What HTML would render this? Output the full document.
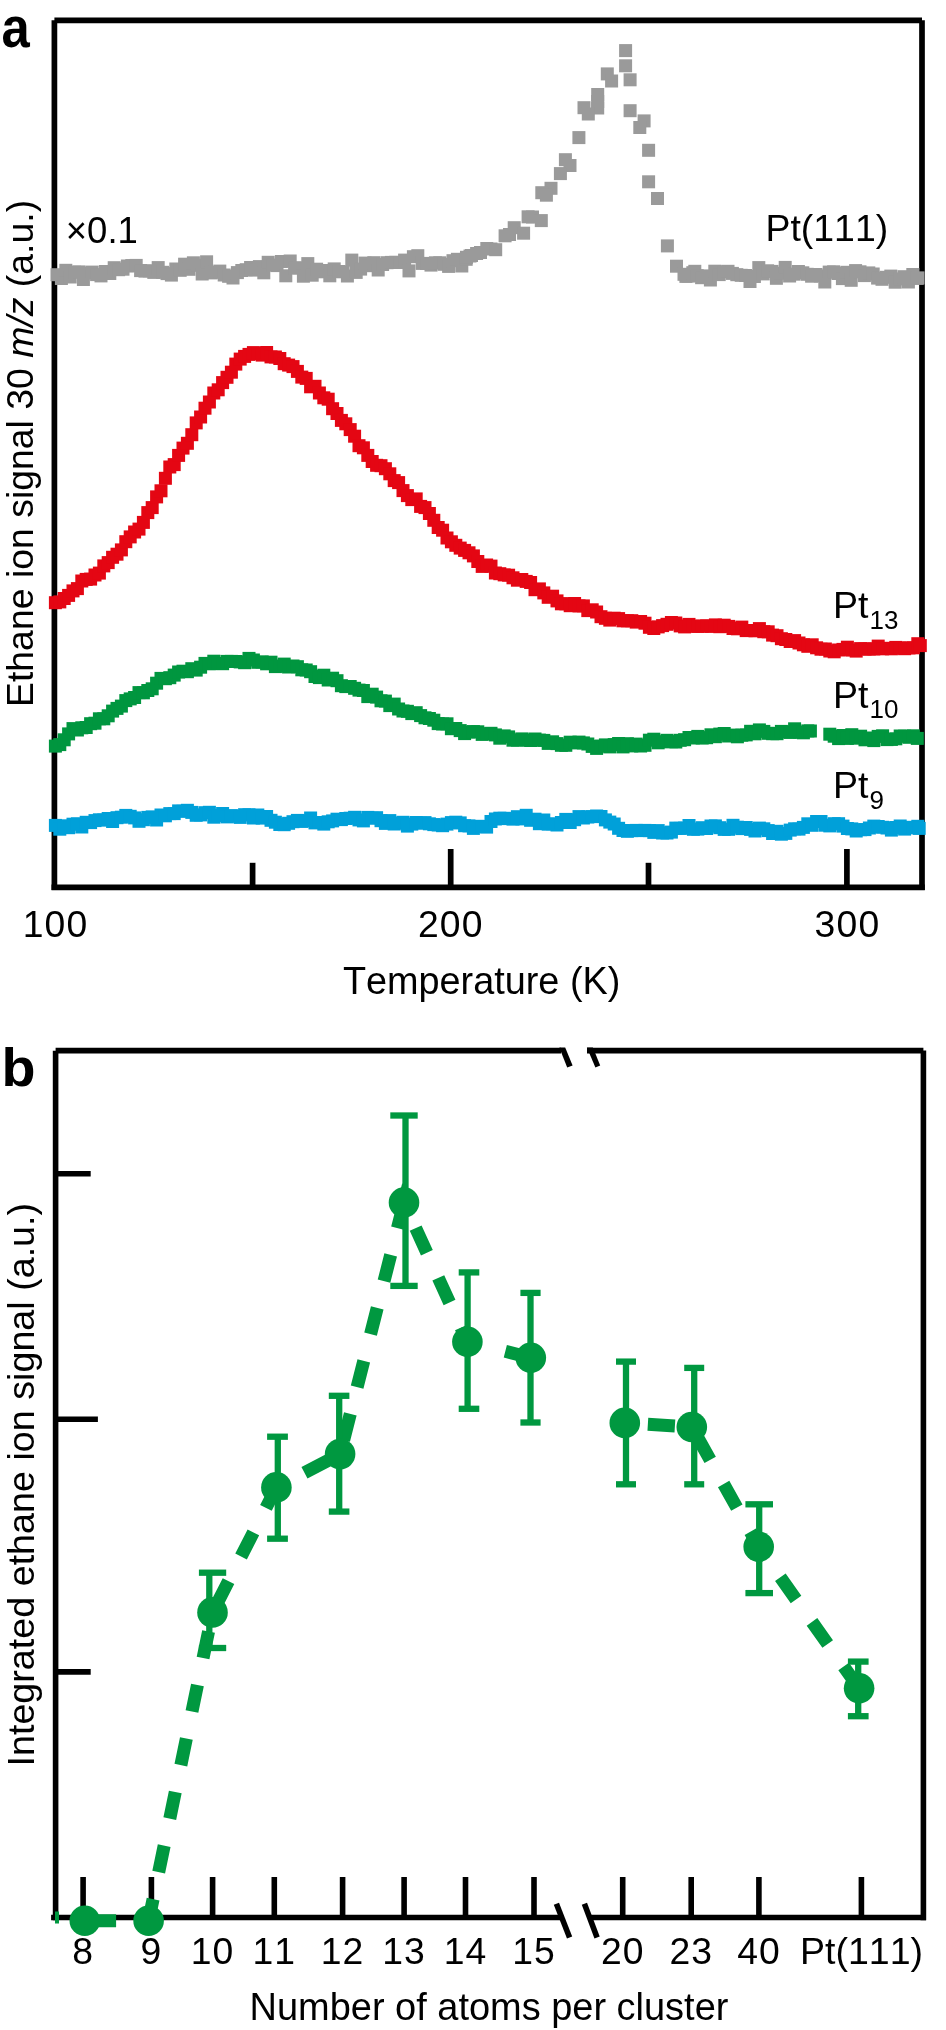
<!DOCTYPE html>
<html><head><meta charset="utf-8"><style>
html,body{margin:0;padding:0;background:#fff;}
svg{display:block;will-change:transform;}
text{font-family:"Liberation Sans",sans-serif;fill:#000;font-kerning:none;}
</style></head><body>
<svg width="946" height="2030" viewBox="0 0 946 2030">
<rect width="946" height="2030" fill="#fff"/>
<!-- panel a -->
<text x="0" y="0" transform="translate(1.50,47.00) scale(0.875,1)" font-size="58.00" font-weight="bold" >a</text>
<g stroke="#000" stroke-width="5.7" fill="none" stroke-linecap="butt">
<line x1="54.4" y1="20.3" x2="54.4" y2="890"/>
<line x1="54.4" y1="20.3" x2="922" y2="20.3"/>
<line x1="922" y1="20.3" x2="922" y2="890"/>
<line x1="51.5" y1="887.3" x2="924.8" y2="887.3"/>
<line x1="252.6" y1="862.8" x2="252.6" y2="887"/>
<line x1="450.7" y1="849" x2="450.7" y2="887"/>
<line x1="648.5" y1="862.8" x2="648.5" y2="887"/>
<line x1="846.9" y1="849" x2="846.9" y2="887"/>
</g>
<g fill="#9a9a9a"><rect x="50.5" y="268.2" width="13.0" height="13.0"/><rect x="54.9" y="272.0" width="13.0" height="13.0"/><rect x="59.3" y="263.8" width="13.0" height="13.0"/><rect x="63.7" y="270.5" width="13.0" height="13.0"/><rect x="68.1" y="265.7" width="13.0" height="13.0"/><rect x="72.5" y="265.4" width="13.0" height="13.0"/><rect x="76.9" y="273.0" width="13.0" height="13.0"/><rect x="81.3" y="266.5" width="13.0" height="13.0"/><rect x="85.7" y="265.6" width="13.0" height="13.0"/><rect x="90.1" y="268.1" width="13.0" height="13.0"/><rect x="94.5" y="269.4" width="13.0" height="13.0"/><rect x="98.9" y="265.0" width="13.0" height="13.0"/><rect x="103.3" y="267.0" width="13.0" height="13.0"/><rect x="107.7" y="261.2" width="13.0" height="13.0"/><rect x="112.1" y="263.2" width="13.0" height="13.0"/><rect x="116.5" y="262.7" width="13.0" height="13.0"/><rect x="120.9" y="259.5" width="13.0" height="13.0"/><rect x="125.3" y="259.1" width="13.0" height="13.0"/><rect x="129.7" y="258.9" width="13.0" height="13.0"/><rect x="134.1" y="264.1" width="13.0" height="13.0"/><rect x="138.5" y="264.6" width="13.0" height="13.0"/><rect x="142.9" y="264.3" width="13.0" height="13.0"/><rect x="147.3" y="265.9" width="13.0" height="13.0"/><rect x="151.7" y="261.1" width="13.0" height="13.0"/><rect x="156.1" y="265.8" width="13.0" height="13.0"/><rect x="160.5" y="267.1" width="13.0" height="13.0"/><rect x="164.9" y="268.6" width="13.0" height="13.0"/><rect x="169.3" y="262.5" width="13.0" height="13.0"/><rect x="173.7" y="263.8" width="13.0" height="13.0"/><rect x="178.1" y="257.7" width="13.0" height="13.0"/><rect x="182.5" y="262.8" width="13.0" height="13.0"/><rect x="186.9" y="256.3" width="13.0" height="13.0"/><rect x="191.3" y="258.8" width="13.0" height="13.0"/><rect x="195.7" y="267.5" width="13.0" height="13.0"/><rect x="200.1" y="255.3" width="13.0" height="13.0"/><rect x="204.5" y="266.4" width="13.0" height="13.0"/><rect x="208.9" y="265.8" width="13.0" height="13.0"/><rect x="213.3" y="264.6" width="13.0" height="13.0"/><rect x="217.7" y="268.5" width="13.0" height="13.0"/><rect x="222.1" y="269.8" width="13.0" height="13.0"/><rect x="226.5" y="271.5" width="13.0" height="13.0"/><rect x="230.9" y="266.1" width="13.0" height="13.0"/><rect x="235.3" y="264.0" width="13.0" height="13.0"/><rect x="239.7" y="263.2" width="13.0" height="13.0"/><rect x="244.1" y="261.0" width="13.0" height="13.0"/><rect x="248.5" y="263.6" width="13.0" height="13.0"/><rect x="252.9" y="260.1" width="13.0" height="13.0"/><rect x="257.3" y="266.3" width="13.0" height="13.0"/><rect x="261.7" y="255.8" width="13.0" height="13.0"/><rect x="266.1" y="258.6" width="13.0" height="13.0"/><rect x="270.5" y="259.1" width="13.0" height="13.0"/><rect x="274.9" y="255.0" width="13.0" height="13.0"/><rect x="279.3" y="269.3" width="13.0" height="13.0"/><rect x="283.7" y="254.5" width="13.0" height="13.0"/><rect x="288.1" y="261.6" width="13.0" height="13.0"/><rect x="292.5" y="261.3" width="13.0" height="13.0"/><rect x="296.9" y="269.7" width="13.0" height="13.0"/><rect x="301.3" y="257.1" width="13.0" height="13.0"/><rect x="305.7" y="268.7" width="13.0" height="13.0"/><rect x="310.1" y="262.7" width="13.0" height="13.0"/><rect x="314.5" y="265.3" width="13.0" height="13.0"/><rect x="318.9" y="264.0" width="13.0" height="13.0"/><rect x="323.3" y="269.3" width="13.0" height="13.0"/><rect x="327.7" y="262.4" width="13.0" height="13.0"/><rect x="332.1" y="265.0" width="13.0" height="13.0"/><rect x="336.5" y="265.3" width="13.0" height="13.0"/><rect x="340.9" y="269.5" width="13.0" height="13.0"/><rect x="345.3" y="253.6" width="13.0" height="13.0"/><rect x="349.7" y="265.9" width="13.0" height="13.0"/><rect x="354.1" y="262.6" width="13.0" height="13.0"/><rect x="358.5" y="256.6" width="13.0" height="13.0"/><rect x="362.9" y="259.2" width="13.0" height="13.0"/><rect x="367.3" y="256.2" width="13.0" height="13.0"/><rect x="371.7" y="263.5" width="13.0" height="13.0"/><rect x="376.1" y="258.0" width="13.0" height="13.0"/><rect x="380.5" y="256.2" width="13.0" height="13.0"/><rect x="384.9" y="255.9" width="13.0" height="13.0"/><rect x="389.3" y="255.8" width="13.0" height="13.0"/><rect x="393.7" y="256.0" width="13.0" height="13.0"/><rect x="398.1" y="253.6" width="13.0" height="13.0"/><rect x="402.5" y="264.4" width="13.0" height="13.0"/><rect x="406.9" y="250.2" width="13.0" height="13.0"/><rect x="411.3" y="249.2" width="13.0" height="13.0"/><rect x="415.7" y="256.9" width="13.0" height="13.0"/><rect x="420.1" y="257.0" width="13.0" height="13.0"/><rect x="424.5" y="258.6" width="13.0" height="13.0"/><rect x="428.9" y="256.3" width="13.0" height="13.0"/><rect x="433.3" y="256.3" width="13.0" height="13.0"/><rect x="437.7" y="257.8" width="13.0" height="13.0"/><rect x="442.1" y="259.9" width="13.0" height="13.0"/><rect x="446.5" y="254.2" width="13.0" height="13.0"/><rect x="450.9" y="252.8" width="13.0" height="13.0"/><rect x="455.3" y="259.5" width="13.0" height="13.0"/><rect x="459.7" y="252.8" width="13.0" height="13.0"/><rect x="463.5" y="249.5" width="13.0" height="13.0"/></g>
<g fill="#9a9a9a"><rect x="619.1" y="44.1" width="13" height="13"/><rect x="619.1" y="59.3" width="13" height="13"/><rect x="623.6" y="73.3" width="13" height="13"/><rect x="600.8" y="67.4" width="13" height="13"/><rect x="605.1" y="74.5" width="13" height="13"/><rect x="591.2" y="88.0" width="13" height="13"/><rect x="591.2" y="95.0" width="13" height="13"/><rect x="591.2" y="101.5" width="13" height="13"/><rect x="577.5" y="101.2" width="13" height="13"/><rect x="581.8" y="107.5" width="13" height="13"/><rect x="572.4" y="131.1" width="13" height="13"/><rect x="558.9" y="153.2" width="13" height="13"/><rect x="563.5" y="159.0" width="13" height="13"/><rect x="553.9" y="167.1" width="13" height="13"/><rect x="544.5" y="181.8" width="13" height="13"/><rect x="535.3" y="186.2" width="13" height="13"/><rect x="539.9" y="188.7" width="13" height="13"/><rect x="521.6" y="210.3" width="13" height="13"/><rect x="526.0" y="210.5" width="13" height="13"/><rect x="534.8" y="214.1" width="13" height="13"/><rect x="507.7" y="221.2" width="13" height="13"/><rect x="498.6" y="229.3" width="13" height="13"/><rect x="503.0" y="228.0" width="13" height="13"/><rect x="517.1" y="226.7" width="13" height="13"/><rect x="480.3" y="242.0" width="13" height="13"/><rect x="484.5" y="242.5" width="13" height="13"/><rect x="489.2" y="243.2" width="13" height="13"/><rect x="470.1" y="247.0" width="13" height="13"/><rect x="474.0" y="246.0" width="13" height="13"/><rect x="460.0" y="250.8" width="13" height="13"/><rect x="465.0" y="249.0" width="13" height="13"/><rect x="623.6" y="104.2" width="13" height="13"/><rect x="637.6" y="114.4" width="13" height="13"/><rect x="633.3" y="121.0" width="13" height="13"/><rect x="642.1" y="143.8" width="13" height="13"/><rect x="642.1" y="175.3" width="13" height="13"/><rect x="651.0" y="192.0" width="13" height="13"/><rect x="660.9" y="239.4" width="13" height="13"/><rect x="670.0" y="259.7" width="13" height="13"/><rect x="679.4" y="269.9" width="13" height="13"/><rect x="688.3" y="264.8" width="13" height="13"/></g>
<g fill="#9a9a9a"><rect x="677.5" y="267.8" width="13.0" height="13.0"/><rect x="681.9" y="269.5" width="13.0" height="13.0"/><rect x="686.3" y="266.2" width="13.0" height="13.0"/><rect x="690.7" y="269.2" width="13.0" height="13.0"/><rect x="695.1" y="271.2" width="13.0" height="13.0"/><rect x="699.5" y="269.4" width="13.0" height="13.0"/><rect x="703.9" y="273.5" width="13.0" height="13.0"/><rect x="708.3" y="264.7" width="13.0" height="13.0"/><rect x="712.7" y="268.1" width="13.0" height="13.0"/><rect x="717.1" y="265.2" width="13.0" height="13.0"/><rect x="721.5" y="264.8" width="13.0" height="13.0"/><rect x="725.9" y="266.9" width="13.0" height="13.0"/><rect x="730.3" y="268.2" width="13.0" height="13.0"/><rect x="734.7" y="268.8" width="13.0" height="13.0"/><rect x="739.1" y="269.0" width="13.0" height="13.0"/><rect x="743.5" y="275.0" width="13.0" height="13.0"/><rect x="747.9" y="270.0" width="13.0" height="13.0"/><rect x="752.3" y="261.1" width="13.0" height="13.0"/><rect x="756.7" y="267.4" width="13.0" height="13.0"/><rect x="761.1" y="264.3" width="13.0" height="13.0"/><rect x="765.5" y="264.9" width="13.0" height="13.0"/><rect x="769.9" y="271.8" width="13.0" height="13.0"/><rect x="774.3" y="266.8" width="13.0" height="13.0"/><rect x="778.7" y="260.9" width="13.0" height="13.0"/><rect x="783.1" y="269.5" width="13.0" height="13.0"/><rect x="787.5" y="267.7" width="13.0" height="13.0"/><rect x="791.9" y="265.0" width="13.0" height="13.0"/><rect x="796.3" y="266.3" width="13.0" height="13.0"/><rect x="800.7" y="267.8" width="13.0" height="13.0"/><rect x="805.1" y="269.7" width="13.0" height="13.0"/><rect x="809.5" y="268.0" width="13.0" height="13.0"/><rect x="813.9" y="269.4" width="13.0" height="13.0"/><rect x="818.3" y="275.5" width="13.0" height="13.0"/><rect x="822.7" y="265.6" width="13.0" height="13.0"/><rect x="827.1" y="265.3" width="13.0" height="13.0"/><rect x="831.5" y="267.0" width="13.0" height="13.0"/><rect x="835.9" y="272.1" width="13.0" height="13.0"/><rect x="840.3" y="265.8" width="13.0" height="13.0"/><rect x="844.7" y="273.8" width="13.0" height="13.0"/><rect x="849.1" y="264.1" width="13.0" height="13.0"/><rect x="853.5" y="265.3" width="13.0" height="13.0"/><rect x="857.9" y="269.1" width="13.0" height="13.0"/><rect x="862.3" y="266.4" width="13.0" height="13.0"/><rect x="866.7" y="267.5" width="13.0" height="13.0"/><rect x="871.1" y="271.6" width="13.0" height="13.0"/><rect x="875.5" y="272.8" width="13.0" height="13.0"/><rect x="879.9" y="270.8" width="13.0" height="13.0"/><rect x="884.3" y="269.6" width="13.0" height="13.0"/><rect x="888.7" y="275.7" width="13.0" height="13.0"/><rect x="893.1" y="272.4" width="13.0" height="13.0"/><rect x="897.5" y="270.2" width="13.0" height="13.0"/><rect x="901.9" y="275.5" width="13.0" height="13.0"/><rect x="906.3" y="268.0" width="13.0" height="13.0"/><rect x="910.7" y="271.9" width="13.0" height="13.0"/><rect x="911.5" y="271.4" width="13.0" height="13.0"/></g>
<g fill="#e40613"><rect x="48.9" y="596.2" width="13.0" height="13.0"/><rect x="53.3" y="595.4" width="13.0" height="13.0"/><rect x="57.7" y="592.0" width="13.0" height="13.0"/><rect x="62.1" y="588.9" width="13.0" height="13.0"/><rect x="66.5" y="584.4" width="13.0" height="13.0"/><rect x="70.9" y="582.1" width="13.0" height="13.0"/><rect x="75.3" y="574.5" width="13.0" height="13.0"/><rect x="79.7" y="572.9" width="13.0" height="13.0"/><rect x="84.1" y="572.6" width="13.0" height="13.0"/><rect x="88.5" y="568.5" width="13.0" height="13.0"/><rect x="92.9" y="566.6" width="13.0" height="13.0"/><rect x="97.3" y="559.4" width="13.0" height="13.0"/><rect x="101.7" y="556.1" width="13.0" height="13.0"/><rect x="106.1" y="550.8" width="13.0" height="13.0"/><rect x="110.5" y="547.7" width="13.0" height="13.0"/><rect x="114.9" y="543.4" width="13.0" height="13.0"/><rect x="119.3" y="535.2" width="13.0" height="13.0"/><rect x="123.7" y="530.4" width="13.0" height="13.0"/><rect x="128.1" y="525.5" width="13.0" height="13.0"/><rect x="132.5" y="522.6" width="13.0" height="13.0"/><rect x="136.9" y="515.9" width="13.0" height="13.0"/><rect x="141.3" y="506.1" width="13.0" height="13.0"/><rect x="145.7" y="501.1" width="13.0" height="13.0"/><rect x="150.1" y="490.4" width="13.0" height="13.0"/><rect x="154.5" y="484.3" width="13.0" height="13.0"/><rect x="158.9" y="471.8" width="13.0" height="13.0"/><rect x="163.3" y="460.5" width="13.0" height="13.0"/><rect x="167.7" y="458.1" width="13.0" height="13.0"/><rect x="172.1" y="448.9" width="13.0" height="13.0"/><rect x="176.5" y="441.6" width="13.0" height="13.0"/><rect x="180.9" y="436.8" width="13.0" height="13.0"/><rect x="185.3" y="428.2" width="13.0" height="13.0"/><rect x="189.7" y="416.4" width="13.0" height="13.0"/><rect x="194.1" y="410.5" width="13.0" height="13.0"/><rect x="198.5" y="401.7" width="13.0" height="13.0"/><rect x="202.9" y="395.5" width="13.0" height="13.0"/><rect x="207.3" y="386.5" width="13.0" height="13.0"/><rect x="211.7" y="383.3" width="13.0" height="13.0"/><rect x="216.1" y="376.1" width="13.0" height="13.0"/><rect x="220.5" y="370.8" width="13.0" height="13.0"/><rect x="224.9" y="365.7" width="13.0" height="13.0"/><rect x="229.3" y="357.6" width="13.0" height="13.0"/><rect x="233.7" y="352.6" width="13.0" height="13.0"/><rect x="238.1" y="349.9" width="13.0" height="13.0"/><rect x="242.5" y="347.9" width="13.0" height="13.0"/><rect x="246.9" y="346.1" width="13.0" height="13.0"/><rect x="251.3" y="347.0" width="13.0" height="13.0"/><rect x="255.7" y="348.6" width="13.0" height="13.0"/><rect x="260.1" y="346.0" width="13.0" height="13.0"/><rect x="264.5" y="350.4" width="13.0" height="13.0"/><rect x="268.9" y="350.5" width="13.0" height="13.0"/><rect x="273.3" y="352.0" width="13.0" height="13.0"/><rect x="277.7" y="357.2" width="13.0" height="13.0"/><rect x="282.1" y="358.6" width="13.0" height="13.0"/><rect x="286.5" y="360.1" width="13.0" height="13.0"/><rect x="290.9" y="364.9" width="13.0" height="13.0"/><rect x="295.3" y="370.6" width="13.0" height="13.0"/><rect x="299.7" y="371.9" width="13.0" height="13.0"/><rect x="304.1" y="380.3" width="13.0" height="13.0"/><rect x="308.5" y="379.8" width="13.0" height="13.0"/><rect x="312.9" y="386.5" width="13.0" height="13.0"/><rect x="317.3" y="391.3" width="13.0" height="13.0"/><rect x="321.7" y="392.7" width="13.0" height="13.0"/><rect x="326.1" y="402.2" width="13.0" height="13.0"/><rect x="330.5" y="407.0" width="13.0" height="13.0"/><rect x="334.9" y="413.9" width="13.0" height="13.0"/><rect x="339.3" y="417.3" width="13.0" height="13.0"/><rect x="343.7" y="423.1" width="13.0" height="13.0"/><rect x="348.1" y="429.7" width="13.0" height="13.0"/><rect x="352.5" y="439.2" width="13.0" height="13.0"/><rect x="356.9" y="441.3" width="13.0" height="13.0"/><rect x="361.3" y="448.9" width="13.0" height="13.0"/><rect x="365.7" y="455.0" width="13.0" height="13.0"/><rect x="370.1" y="458.8" width="13.0" height="13.0"/><rect x="374.5" y="459.2" width="13.0" height="13.0"/><rect x="378.9" y="462.2" width="13.0" height="13.0"/><rect x="383.3" y="467.3" width="13.0" height="13.0"/><rect x="387.7" y="474.1" width="13.0" height="13.0"/><rect x="392.1" y="476.1" width="13.0" height="13.0"/><rect x="396.5" y="484.1" width="13.0" height="13.0"/><rect x="400.9" y="489.1" width="13.0" height="13.0"/><rect x="405.3" y="493.1" width="13.0" height="13.0"/><rect x="409.7" y="492.4" width="13.0" height="13.0"/><rect x="414.1" y="499.9" width="13.0" height="13.0"/><rect x="418.5" y="501.1" width="13.0" height="13.0"/><rect x="422.9" y="507.0" width="13.0" height="13.0"/><rect x="427.3" y="513.8" width="13.0" height="13.0"/><rect x="431.7" y="521.0" width="13.0" height="13.0"/><rect x="436.1" y="523.7" width="13.0" height="13.0"/><rect x="440.5" y="531.5" width="13.0" height="13.0"/><rect x="444.9" y="535.3" width="13.0" height="13.0"/><rect x="449.3" y="538.8" width="13.0" height="13.0"/><rect x="453.7" y="541.6" width="13.0" height="13.0"/><rect x="458.1" y="543.9" width="13.0" height="13.0"/><rect x="462.5" y="546.3" width="13.0" height="13.0"/><rect x="466.9" y="549.4" width="13.0" height="13.0"/><rect x="471.3" y="555.0" width="13.0" height="13.0"/><rect x="475.7" y="559.9" width="13.0" height="13.0"/><rect x="480.1" y="558.5" width="13.0" height="13.0"/><rect x="484.5" y="559.6" width="13.0" height="13.0"/><rect x="488.9" y="566.5" width="13.0" height="13.0"/><rect x="493.3" y="567.2" width="13.0" height="13.0"/><rect x="497.7" y="568.4" width="13.0" height="13.0"/><rect x="502.1" y="568.7" width="13.0" height="13.0"/><rect x="506.5" y="571.3" width="13.0" height="13.0"/><rect x="510.9" y="573.7" width="13.0" height="13.0"/><rect x="515.3" y="573.0" width="13.0" height="13.0"/><rect x="519.7" y="574.9" width="13.0" height="13.0"/><rect x="524.1" y="576.0" width="13.0" height="13.0"/><rect x="528.5" y="583.2" width="13.0" height="13.0"/><rect x="532.9" y="582.4" width="13.0" height="13.0"/><rect x="537.3" y="586.4" width="13.0" height="13.0"/><rect x="541.7" y="590.8" width="13.0" height="13.0"/><rect x="546.1" y="589.7" width="13.0" height="13.0"/><rect x="550.5" y="594.4" width="13.0" height="13.0"/><rect x="554.9" y="597.3" width="13.0" height="13.0"/><rect x="559.3" y="597.3" width="13.0" height="13.0"/><rect x="563.7" y="599.2" width="13.0" height="13.0"/><rect x="568.1" y="597.0" width="13.0" height="13.0"/><rect x="572.5" y="599.4" width="13.0" height="13.0"/><rect x="576.9" y="599.4" width="13.0" height="13.0"/><rect x="581.3" y="604.1" width="13.0" height="13.0"/><rect x="585.7" y="603.3" width="13.0" height="13.0"/><rect x="590.1" y="605.5" width="13.0" height="13.0"/><rect x="594.5" y="610.2" width="13.0" height="13.0"/><rect x="598.9" y="611.8" width="13.0" height="13.0"/><rect x="603.3" y="613.6" width="13.0" height="13.0"/><rect x="607.7" y="611.7" width="13.0" height="13.0"/><rect x="612.1" y="612.1" width="13.0" height="13.0"/><rect x="616.5" y="614.3" width="13.0" height="13.0"/><rect x="620.9" y="614.3" width="13.0" height="13.0"/><rect x="625.3" y="614.2" width="13.0" height="13.0"/><rect x="629.7" y="615.6" width="13.0" height="13.0"/><rect x="634.1" y="615.0" width="13.0" height="13.0"/><rect x="638.5" y="616.7" width="13.0" height="13.0"/><rect x="642.9" y="620.8" width="13.0" height="13.0"/><rect x="647.3" y="622.0" width="13.0" height="13.0"/><rect x="651.7" y="620.4" width="13.0" height="13.0"/><rect x="656.1" y="619.1" width="13.0" height="13.0"/><rect x="660.5" y="617.8" width="13.0" height="13.0"/><rect x="664.9" y="616.0" width="13.0" height="13.0"/><rect x="669.3" y="616.5" width="13.0" height="13.0"/><rect x="673.7" y="619.4" width="13.0" height="13.0"/><rect x="678.1" y="620.4" width="13.0" height="13.0"/><rect x="682.5" y="617.9" width="13.0" height="13.0"/><rect x="686.9" y="619.7" width="13.0" height="13.0"/><rect x="691.3" y="619.9" width="13.0" height="13.0"/><rect x="695.7" y="619.6" width="13.0" height="13.0"/><rect x="700.1" y="619.3" width="13.0" height="13.0"/><rect x="704.5" y="619.9" width="13.0" height="13.0"/><rect x="708.9" y="618.4" width="13.0" height="13.0"/><rect x="713.3" y="620.2" width="13.0" height="13.0"/><rect x="717.7" y="618.7" width="13.0" height="13.0"/><rect x="722.1" y="619.9" width="13.0" height="13.0"/><rect x="726.5" y="622.0" width="13.0" height="13.0"/><rect x="730.9" y="622.3" width="13.0" height="13.0"/><rect x="735.3" y="620.6" width="13.0" height="13.0"/><rect x="739.7" y="624.1" width="13.0" height="13.0"/><rect x="744.1" y="624.0" width="13.0" height="13.0"/><rect x="748.5" y="624.3" width="13.0" height="13.0"/><rect x="752.9" y="622.1" width="13.0" height="13.0"/><rect x="757.3" y="625.2" width="13.0" height="13.0"/><rect x="761.7" y="625.3" width="13.0" height="13.0"/><rect x="766.1" y="628.6" width="13.0" height="13.0"/><rect x="770.5" y="629.2" width="13.0" height="13.0"/><rect x="774.9" y="632.2" width="13.0" height="13.0"/><rect x="779.3" y="633.0" width="13.0" height="13.0"/><rect x="783.7" y="635.0" width="13.0" height="13.0"/><rect x="788.1" y="634.1" width="13.0" height="13.0"/><rect x="792.5" y="636.5" width="13.0" height="13.0"/><rect x="796.9" y="638.3" width="13.0" height="13.0"/><rect x="801.3" y="639.8" width="13.0" height="13.0"/><rect x="805.7" y="638.3" width="13.0" height="13.0"/><rect x="810.1" y="641.3" width="13.0" height="13.0"/><rect x="814.5" y="642.7" width="13.0" height="13.0"/><rect x="818.9" y="642.5" width="13.0" height="13.0"/><rect x="823.3" y="644.5" width="13.0" height="13.0"/><rect x="827.7" y="645.3" width="13.0" height="13.0"/><rect x="832.1" y="643.5" width="13.0" height="13.0"/><rect x="836.5" y="642.9" width="13.0" height="13.0"/><rect x="840.9" y="640.7" width="13.0" height="13.0"/><rect x="845.3" y="643.6" width="13.0" height="13.0"/><rect x="849.7" y="644.6" width="13.0" height="13.0"/><rect x="854.1" y="642.1" width="13.0" height="13.0"/><rect x="858.5" y="642.5" width="13.0" height="13.0"/><rect x="862.9" y="642.6" width="13.0" height="13.0"/><rect x="867.3" y="642.4" width="13.0" height="13.0"/><rect x="871.7" y="639.6" width="13.0" height="13.0"/><rect x="876.1" y="642.3" width="13.0" height="13.0"/><rect x="880.5" y="641.8" width="13.0" height="13.0"/><rect x="884.9" y="642.3" width="13.0" height="13.0"/><rect x="889.3" y="640.9" width="13.0" height="13.0"/><rect x="893.7" y="641.5" width="13.0" height="13.0"/><rect x="898.1" y="642.2" width="13.0" height="13.0"/><rect x="902.5" y="641.4" width="13.0" height="13.0"/><rect x="906.9" y="641.3" width="13.0" height="13.0"/><rect x="911.3" y="637.2" width="13.0" height="13.0"/><rect x="913.8" y="639.1" width="13.0" height="13.0"/></g>
<g fill="#00963f"><rect x="48.9" y="739.6" width="13.0" height="13.0"/><rect x="53.3" y="738.1" width="13.0" height="13.0"/><rect x="57.7" y="733.3" width="13.0" height="13.0"/><rect x="62.1" y="727.4" width="13.0" height="13.0"/><rect x="66.5" y="722.1" width="13.0" height="13.0"/><rect x="70.9" y="723.5" width="13.0" height="13.0"/><rect x="75.3" y="721.3" width="13.0" height="13.0"/><rect x="79.7" y="721.0" width="13.0" height="13.0"/><rect x="84.1" y="717.2" width="13.0" height="13.0"/><rect x="88.5" y="716.7" width="13.0" height="13.0"/><rect x="92.9" y="712.3" width="13.0" height="13.0"/><rect x="97.3" y="712.3" width="13.0" height="13.0"/><rect x="101.7" y="709.3" width="13.0" height="13.0"/><rect x="106.1" y="704.6" width="13.0" height="13.0"/><rect x="110.5" y="701.9" width="13.0" height="13.0"/><rect x="114.9" y="699.6" width="13.0" height="13.0"/><rect x="119.3" y="694.1" width="13.0" height="13.0"/><rect x="123.7" y="692.4" width="13.0" height="13.0"/><rect x="128.1" y="691.0" width="13.0" height="13.0"/><rect x="132.5" y="686.1" width="13.0" height="13.0"/><rect x="136.9" y="686.3" width="13.0" height="13.0"/><rect x="141.3" y="684.0" width="13.0" height="13.0"/><rect x="145.7" y="682.3" width="13.0" height="13.0"/><rect x="150.1" y="676.7" width="13.0" height="13.0"/><rect x="154.5" y="671.9" width="13.0" height="13.0"/><rect x="158.9" y="672.2" width="13.0" height="13.0"/><rect x="163.3" y="671.2" width="13.0" height="13.0"/><rect x="167.7" y="668.6" width="13.0" height="13.0"/><rect x="172.1" y="665.5" width="13.0" height="13.0"/><rect x="176.5" y="664.7" width="13.0" height="13.0"/><rect x="180.9" y="665.2" width="13.0" height="13.0"/><rect x="185.3" y="662.2" width="13.0" height="13.0"/><rect x="189.7" y="663.6" width="13.0" height="13.0"/><rect x="194.1" y="660.7" width="13.0" height="13.0"/><rect x="198.5" y="656.9" width="13.0" height="13.0"/><rect x="202.9" y="657.3" width="13.0" height="13.0"/><rect x="207.3" y="654.7" width="13.0" height="13.0"/><rect x="211.7" y="657.0" width="13.0" height="13.0"/><rect x="216.1" y="657.2" width="13.0" height="13.0"/><rect x="220.5" y="654.9" width="13.0" height="13.0"/><rect x="224.9" y="654.9" width="13.0" height="13.0"/><rect x="229.3" y="655.0" width="13.0" height="13.0"/><rect x="233.7" y="655.4" width="13.0" height="13.0"/><rect x="238.1" y="656.2" width="13.0" height="13.0"/><rect x="242.5" y="651.9" width="13.0" height="13.0"/><rect x="246.9" y="653.5" width="13.0" height="13.0"/><rect x="251.3" y="655.8" width="13.0" height="13.0"/><rect x="255.7" y="655.4" width="13.0" height="13.0"/><rect x="260.1" y="657.3" width="13.0" height="13.0"/><rect x="264.5" y="655.7" width="13.0" height="13.0"/><rect x="268.9" y="660.1" width="13.0" height="13.0"/><rect x="273.3" y="659.5" width="13.0" height="13.0"/><rect x="277.7" y="657.6" width="13.0" height="13.0"/><rect x="282.1" y="660.5" width="13.0" height="13.0"/><rect x="286.5" y="659.5" width="13.0" height="13.0"/><rect x="290.9" y="660.2" width="13.0" height="13.0"/><rect x="295.3" y="663.3" width="13.0" height="13.0"/><rect x="299.7" y="663.5" width="13.0" height="13.0"/><rect x="304.1" y="665.2" width="13.0" height="13.0"/><rect x="308.5" y="670.0" width="13.0" height="13.0"/><rect x="312.9" y="671.1" width="13.0" height="13.0"/><rect x="317.3" y="668.7" width="13.0" height="13.0"/><rect x="321.7" y="673.5" width="13.0" height="13.0"/><rect x="326.1" y="671.7" width="13.0" height="13.0"/><rect x="330.5" y="674.2" width="13.0" height="13.0"/><rect x="334.9" y="679.2" width="13.0" height="13.0"/><rect x="339.3" y="680.1" width="13.0" height="13.0"/><rect x="343.7" y="680.0" width="13.0" height="13.0"/><rect x="348.1" y="681.8" width="13.0" height="13.0"/><rect x="352.5" y="683.6" width="13.0" height="13.0"/><rect x="356.9" y="684.0" width="13.0" height="13.0"/><rect x="361.3" y="690.1" width="13.0" height="13.0"/><rect x="365.7" y="687.7" width="13.0" height="13.0"/><rect x="370.1" y="690.6" width="13.0" height="13.0"/><rect x="374.5" y="694.3" width="13.0" height="13.0"/><rect x="378.9" y="694.6" width="13.0" height="13.0"/><rect x="383.3" y="699.1" width="13.0" height="13.0"/><rect x="387.7" y="697.6" width="13.0" height="13.0"/><rect x="392.1" y="702.5" width="13.0" height="13.0"/><rect x="396.5" y="704.5" width="13.0" height="13.0"/><rect x="400.9" y="704.8" width="13.0" height="13.0"/><rect x="405.3" y="707.1" width="13.0" height="13.0"/><rect x="409.7" y="706.2" width="13.0" height="13.0"/><rect x="414.1" y="709.1" width="13.0" height="13.0"/><rect x="418.5" y="711.3" width="13.0" height="13.0"/><rect x="422.9" y="712.0" width="13.0" height="13.0"/><rect x="427.3" y="713.7" width="13.0" height="13.0"/><rect x="431.7" y="717.1" width="13.0" height="13.0"/><rect x="436.1" y="717.5" width="13.0" height="13.0"/><rect x="440.5" y="717.3" width="13.0" height="13.0"/><rect x="444.9" y="722.2" width="13.0" height="13.0"/><rect x="449.3" y="722.0" width="13.0" height="13.0"/><rect x="453.7" y="724.1" width="13.0" height="13.0"/><rect x="458.1" y="727.1" width="13.0" height="13.0"/><rect x="462.5" y="725.5" width="13.0" height="13.0"/><rect x="466.9" y="725.1" width="13.0" height="13.0"/><rect x="471.3" y="725.3" width="13.0" height="13.0"/><rect x="475.7" y="727.9" width="13.0" height="13.0"/><rect x="480.1" y="727.2" width="13.0" height="13.0"/><rect x="484.5" y="726.8" width="13.0" height="13.0"/><rect x="488.9" y="728.4" width="13.0" height="13.0"/><rect x="493.3" y="731.7" width="13.0" height="13.0"/><rect x="497.7" y="729.4" width="13.0" height="13.0"/><rect x="502.1" y="730.4" width="13.0" height="13.0"/><rect x="506.5" y="733.7" width="13.0" height="13.0"/><rect x="510.9" y="733.6" width="13.0" height="13.0"/><rect x="515.3" y="732.4" width="13.0" height="13.0"/><rect x="519.7" y="733.5" width="13.0" height="13.0"/><rect x="524.1" y="734.0" width="13.0" height="13.0"/><rect x="528.5" y="732.5" width="13.0" height="13.0"/><rect x="532.9" y="733.6" width="13.0" height="13.0"/><rect x="537.3" y="733.9" width="13.0" height="13.0"/><rect x="541.7" y="736.9" width="13.0" height="13.0"/><rect x="546.1" y="735.3" width="13.0" height="13.0"/><rect x="550.5" y="737.1" width="13.0" height="13.0"/><rect x="554.9" y="738.8" width="13.0" height="13.0"/><rect x="559.3" y="738.8" width="13.0" height="13.0"/><rect x="563.7" y="735.7" width="13.0" height="13.0"/><rect x="568.1" y="736.4" width="13.0" height="13.0"/><rect x="572.5" y="735.6" width="13.0" height="13.0"/><rect x="576.9" y="736.4" width="13.0" height="13.0"/><rect x="581.3" y="737.5" width="13.0" height="13.0"/><rect x="585.7" y="739.9" width="13.0" height="13.0"/><rect x="590.1" y="741.9" width="13.0" height="13.0"/><rect x="594.5" y="739.6" width="13.0" height="13.0"/><rect x="598.9" y="738.4" width="13.0" height="13.0"/><rect x="603.3" y="740.4" width="13.0" height="13.0"/><rect x="607.7" y="738.1" width="13.0" height="13.0"/><rect x="612.1" y="737.0" width="13.0" height="13.0"/><rect x="616.5" y="740.4" width="13.0" height="13.0"/><rect x="620.9" y="737.2" width="13.0" height="13.0"/><rect x="625.3" y="739.4" width="13.0" height="13.0"/><rect x="629.7" y="737.6" width="13.0" height="13.0"/><rect x="634.1" y="739.5" width="13.0" height="13.0"/><rect x="638.5" y="738.8" width="13.0" height="13.0"/><rect x="642.9" y="733.7" width="13.0" height="13.0"/><rect x="647.3" y="732.7" width="13.0" height="13.0"/><rect x="651.7" y="736.3" width="13.0" height="13.0"/><rect x="656.1" y="735.2" width="13.0" height="13.0"/><rect x="660.5" y="733.8" width="13.0" height="13.0"/><rect x="664.9" y="735.2" width="13.0" height="13.0"/><rect x="669.3" y="735.5" width="13.0" height="13.0"/><rect x="673.7" y="733.8" width="13.0" height="13.0"/><rect x="678.1" y="733.2" width="13.0" height="13.0"/><rect x="682.5" y="731.0" width="13.0" height="13.0"/><rect x="686.9" y="731.5" width="13.0" height="13.0"/><rect x="691.3" y="729.9" width="13.0" height="13.0"/><rect x="695.7" y="731.5" width="13.0" height="13.0"/><rect x="700.1" y="731.2" width="13.0" height="13.0"/><rect x="704.5" y="728.3" width="13.0" height="13.0"/><rect x="708.9" y="730.2" width="13.0" height="13.0"/><rect x="713.3" y="727.6" width="13.0" height="13.0"/><rect x="717.7" y="727.0" width="13.0" height="13.0"/><rect x="722.1" y="729.5" width="13.0" height="13.0"/><rect x="726.5" y="728.6" width="13.0" height="13.0"/><rect x="730.9" y="730.3" width="13.0" height="13.0"/><rect x="735.3" y="728.7" width="13.0" height="13.0"/><rect x="739.7" y="728.4" width="13.0" height="13.0"/><rect x="744.1" y="724.8" width="13.0" height="13.0"/><rect x="748.5" y="727.3" width="13.0" height="13.0"/><rect x="752.9" y="723.4" width="13.0" height="13.0"/><rect x="757.3" y="724.9" width="13.0" height="13.0"/><rect x="761.7" y="726.8" width="13.0" height="13.0"/><rect x="766.1" y="727.2" width="13.0" height="13.0"/><rect x="770.5" y="727.2" width="13.0" height="13.0"/><rect x="774.9" y="724.9" width="13.0" height="13.0"/><rect x="779.3" y="725.5" width="13.0" height="13.0"/><rect x="783.7" y="725.9" width="13.0" height="13.0"/><rect x="788.1" y="722.3" width="13.0" height="13.0"/><rect x="792.5" y="725.7" width="13.0" height="13.0"/><rect x="796.9" y="726.3" width="13.0" height="13.0"/><rect x="801.3" y="724.4" width="13.0" height="13.0"/><rect x="827.7" y="729.7" width="13.0" height="13.0"/><rect x="832.1" y="732.1" width="13.0" height="13.0"/><rect x="836.5" y="729.0" width="13.0" height="13.0"/><rect x="840.9" y="731.9" width="13.0" height="13.0"/><rect x="845.3" y="728.2" width="13.0" height="13.0"/><rect x="849.7" y="731.7" width="13.0" height="13.0"/><rect x="854.1" y="729.7" width="13.0" height="13.0"/><rect x="858.5" y="733.3" width="13.0" height="13.0"/><rect x="862.9" y="731.5" width="13.0" height="13.0"/><rect x="867.3" y="734.1" width="13.0" height="13.0"/><rect x="871.7" y="729.9" width="13.0" height="13.0"/><rect x="876.1" y="729.3" width="13.0" height="13.0"/><rect x="880.5" y="733.1" width="13.0" height="13.0"/><rect x="884.9" y="732.9" width="13.0" height="13.0"/><rect x="889.3" y="732.3" width="13.0" height="13.0"/><rect x="893.7" y="729.5" width="13.0" height="13.0"/><rect x="898.1" y="729.7" width="13.0" height="13.0"/><rect x="902.5" y="730.8" width="13.0" height="13.0"/><rect x="906.9" y="729.3" width="13.0" height="13.0"/><rect x="910.8" y="731.9" width="13.0" height="13.0"/><rect x="803.9" y="724.5" width="13.0" height="13.0"/><rect x="823.3" y="727.7" width="13.0" height="13.0"/></g>
<g fill="#00a0d9"><rect x="48.9" y="818.9" width="13.0" height="13.0"/><rect x="53.3" y="822.7" width="13.0" height="13.0"/><rect x="57.7" y="819.3" width="13.0" height="13.0"/><rect x="62.1" y="821.2" width="13.0" height="13.0"/><rect x="66.5" y="817.7" width="13.0" height="13.0"/><rect x="70.9" y="817.3" width="13.0" height="13.0"/><rect x="75.3" y="820.5" width="13.0" height="13.0"/><rect x="79.7" y="815.8" width="13.0" height="13.0"/><rect x="84.1" y="816.1" width="13.0" height="13.0"/><rect x="88.5" y="814.1" width="13.0" height="13.0"/><rect x="92.9" y="813.3" width="13.0" height="13.0"/><rect x="97.3" y="813.5" width="13.0" height="13.0"/><rect x="101.7" y="812.0" width="13.0" height="13.0"/><rect x="106.1" y="815.0" width="13.0" height="13.0"/><rect x="110.5" y="811.2" width="13.0" height="13.0"/><rect x="114.9" y="810.7" width="13.0" height="13.0"/><rect x="119.3" y="808.9" width="13.0" height="13.0"/><rect x="123.7" y="809.8" width="13.0" height="13.0"/><rect x="128.1" y="811.4" width="13.0" height="13.0"/><rect x="132.5" y="814.8" width="13.0" height="13.0"/><rect x="136.9" y="813.2" width="13.0" height="13.0"/><rect x="141.3" y="810.9" width="13.0" height="13.0"/><rect x="145.7" y="810.4" width="13.0" height="13.0"/><rect x="150.1" y="813.5" width="13.0" height="13.0"/><rect x="154.5" y="808.5" width="13.0" height="13.0"/><rect x="158.9" y="809.3" width="13.0" height="13.0"/><rect x="163.3" y="807.1" width="13.0" height="13.0"/><rect x="167.7" y="807.1" width="13.0" height="13.0"/><rect x="172.1" y="804.4" width="13.0" height="13.0"/><rect x="176.5" y="804.8" width="13.0" height="13.0"/><rect x="180.9" y="803.8" width="13.0" height="13.0"/><rect x="185.3" y="805.9" width="13.0" height="13.0"/><rect x="189.7" y="808.8" width="13.0" height="13.0"/><rect x="194.1" y="808.4" width="13.0" height="13.0"/><rect x="198.5" y="806.2" width="13.0" height="13.0"/><rect x="202.9" y="805.8" width="13.0" height="13.0"/><rect x="207.3" y="810.7" width="13.0" height="13.0"/><rect x="211.7" y="809.0" width="13.0" height="13.0"/><rect x="216.1" y="807.0" width="13.0" height="13.0"/><rect x="220.5" y="810.4" width="13.0" height="13.0"/><rect x="224.9" y="809.1" width="13.0" height="13.0"/><rect x="229.3" y="809.8" width="13.0" height="13.0"/><rect x="233.7" y="810.9" width="13.0" height="13.0"/><rect x="238.1" y="808.2" width="13.0" height="13.0"/><rect x="242.5" y="808.3" width="13.0" height="13.0"/><rect x="246.9" y="811.5" width="13.0" height="13.0"/><rect x="251.3" y="808.5" width="13.0" height="13.0"/><rect x="255.7" y="811.6" width="13.0" height="13.0"/><rect x="260.1" y="810.0" width="13.0" height="13.0"/><rect x="264.5" y="813.8" width="13.0" height="13.0"/><rect x="268.9" y="815.7" width="13.0" height="13.0"/><rect x="273.3" y="818.0" width="13.0" height="13.0"/><rect x="277.7" y="818.2" width="13.0" height="13.0"/><rect x="282.1" y="816.8" width="13.0" height="13.0"/><rect x="286.5" y="815.2" width="13.0" height="13.0"/><rect x="290.9" y="813.9" width="13.0" height="13.0"/><rect x="295.3" y="814.9" width="13.0" height="13.0"/><rect x="299.7" y="814.3" width="13.0" height="13.0"/><rect x="304.1" y="811.5" width="13.0" height="13.0"/><rect x="308.5" y="816.4" width="13.0" height="13.0"/><rect x="312.9" y="816.0" width="13.0" height="13.0"/><rect x="317.3" y="817.6" width="13.0" height="13.0"/><rect x="321.7" y="815.3" width="13.0" height="13.0"/><rect x="326.1" y="814.4" width="13.0" height="13.0"/><rect x="330.5" y="812.7" width="13.0" height="13.0"/><rect x="334.9" y="813.1" width="13.0" height="13.0"/><rect x="339.3" y="812.0" width="13.0" height="13.0"/><rect x="343.7" y="811.7" width="13.0" height="13.0"/><rect x="348.1" y="810.8" width="13.0" height="13.0"/><rect x="352.5" y="813.4" width="13.0" height="13.0"/><rect x="356.9" y="814.4" width="13.0" height="13.0"/><rect x="361.3" y="810.9" width="13.0" height="13.0"/><rect x="365.7" y="811.7" width="13.0" height="13.0"/><rect x="370.1" y="811.2" width="13.0" height="13.0"/><rect x="374.5" y="814.2" width="13.0" height="13.0"/><rect x="378.9" y="816.9" width="13.0" height="13.0"/><rect x="383.3" y="814.1" width="13.0" height="13.0"/><rect x="387.7" y="817.5" width="13.0" height="13.0"/><rect x="392.1" y="816.6" width="13.0" height="13.0"/><rect x="396.5" y="815.8" width="13.0" height="13.0"/><rect x="400.9" y="819.6" width="13.0" height="13.0"/><rect x="405.3" y="817.6" width="13.0" height="13.0"/><rect x="409.7" y="816.0" width="13.0" height="13.0"/><rect x="414.1" y="816.7" width="13.0" height="13.0"/><rect x="418.5" y="816.1" width="13.0" height="13.0"/><rect x="422.9" y="817.3" width="13.0" height="13.0"/><rect x="427.3" y="818.1" width="13.0" height="13.0"/><rect x="431.7" y="818.5" width="13.0" height="13.0"/><rect x="436.1" y="819.2" width="13.0" height="13.0"/><rect x="440.5" y="817.6" width="13.0" height="13.0"/><rect x="444.9" y="816.1" width="13.0" height="13.0"/><rect x="449.3" y="815.7" width="13.0" height="13.0"/><rect x="453.7" y="816.4" width="13.0" height="13.0"/><rect x="458.1" y="819.2" width="13.0" height="13.0"/><rect x="462.5" y="819.4" width="13.0" height="13.0"/><rect x="466.9" y="821.9" width="13.0" height="13.0"/><rect x="471.3" y="819.9" width="13.0" height="13.0"/><rect x="475.7" y="819.9" width="13.0" height="13.0"/><rect x="480.1" y="820.6" width="13.0" height="13.0"/><rect x="484.5" y="815.0" width="13.0" height="13.0"/><rect x="488.9" y="812.5" width="13.0" height="13.0"/><rect x="493.3" y="811.7" width="13.0" height="13.0"/><rect x="497.7" y="811.8" width="13.0" height="13.0"/><rect x="502.1" y="812.1" width="13.0" height="13.0"/><rect x="506.5" y="812.6" width="13.0" height="13.0"/><rect x="510.9" y="810.2" width="13.0" height="13.0"/><rect x="515.3" y="812.4" width="13.0" height="13.0"/><rect x="519.7" y="808.8" width="13.0" height="13.0"/><rect x="524.1" y="813.8" width="13.0" height="13.0"/><rect x="528.5" y="812.7" width="13.0" height="13.0"/><rect x="532.9" y="817.2" width="13.0" height="13.0"/><rect x="537.3" y="813.5" width="13.0" height="13.0"/><rect x="541.7" y="817.6" width="13.0" height="13.0"/><rect x="546.1" y="817.4" width="13.0" height="13.0"/><rect x="550.5" y="818.5" width="13.0" height="13.0"/><rect x="554.9" y="816.0" width="13.0" height="13.0"/><rect x="559.3" y="812.9" width="13.0" height="13.0"/><rect x="563.7" y="816.0" width="13.0" height="13.0"/><rect x="568.1" y="813.2" width="13.0" height="13.0"/><rect x="572.5" y="810.1" width="13.0" height="13.0"/><rect x="576.9" y="811.5" width="13.0" height="13.0"/><rect x="581.3" y="810.5" width="13.0" height="13.0"/><rect x="585.7" y="810.1" width="13.0" height="13.0"/><rect x="590.1" y="809.5" width="13.0" height="13.0"/><rect x="594.5" y="810.0" width="13.0" height="13.0"/><rect x="598.9" y="813.4" width="13.0" height="13.0"/><rect x="603.3" y="815.6" width="13.0" height="13.0"/><rect x="607.7" y="817.5" width="13.0" height="13.0"/><rect x="612.1" y="821.8" width="13.0" height="13.0"/><rect x="616.5" y="824.0" width="13.0" height="13.0"/><rect x="620.9" y="824.8" width="13.0" height="13.0"/><rect x="625.3" y="824.1" width="13.0" height="13.0"/><rect x="629.7" y="823.9" width="13.0" height="13.0"/><rect x="634.1" y="824.1" width="13.0" height="13.0"/><rect x="638.5" y="823.9" width="13.0" height="13.0"/><rect x="642.9" y="824.1" width="13.0" height="13.0"/><rect x="647.3" y="825.9" width="13.0" height="13.0"/><rect x="651.7" y="824.1" width="13.0" height="13.0"/><rect x="656.1" y="826.5" width="13.0" height="13.0"/><rect x="660.5" y="826.5" width="13.0" height="13.0"/><rect x="664.9" y="825.6" width="13.0" height="13.0"/><rect x="669.3" y="821.6" width="13.0" height="13.0"/><rect x="673.7" y="821.9" width="13.0" height="13.0"/><rect x="678.1" y="821.6" width="13.0" height="13.0"/><rect x="682.5" y="819.0" width="13.0" height="13.0"/><rect x="686.9" y="822.8" width="13.0" height="13.0"/><rect x="691.3" y="822.6" width="13.0" height="13.0"/><rect x="695.7" y="821.2" width="13.0" height="13.0"/><rect x="700.1" y="822.0" width="13.0" height="13.0"/><rect x="704.5" y="819.5" width="13.0" height="13.0"/><rect x="708.9" y="819.4" width="13.0" height="13.0"/><rect x="713.3" y="821.2" width="13.0" height="13.0"/><rect x="717.7" y="822.9" width="13.0" height="13.0"/><rect x="722.1" y="822.8" width="13.0" height="13.0"/><rect x="726.5" y="818.8" width="13.0" height="13.0"/><rect x="730.9" y="820.7" width="13.0" height="13.0"/><rect x="735.3" y="822.1" width="13.0" height="13.0"/><rect x="739.7" y="821.0" width="13.0" height="13.0"/><rect x="744.1" y="822.9" width="13.0" height="13.0"/><rect x="748.5" y="824.5" width="13.0" height="13.0"/><rect x="752.9" y="821.6" width="13.0" height="13.0"/><rect x="757.3" y="822.3" width="13.0" height="13.0"/><rect x="761.7" y="824.1" width="13.0" height="13.0"/><rect x="766.1" y="827.0" width="13.0" height="13.0"/><rect x="770.5" y="824.8" width="13.0" height="13.0"/><rect x="774.9" y="827.7" width="13.0" height="13.0"/><rect x="779.3" y="826.9" width="13.0" height="13.0"/><rect x="783.7" y="823.6" width="13.0" height="13.0"/><rect x="788.1" y="822.3" width="13.0" height="13.0"/><rect x="792.5" y="822.6" width="13.0" height="13.0"/><rect x="796.9" y="820.9" width="13.0" height="13.0"/><rect x="801.3" y="817.3" width="13.0" height="13.0"/><rect x="805.7" y="818.8" width="13.0" height="13.0"/><rect x="810.1" y="815.0" width="13.0" height="13.0"/><rect x="814.5" y="815.0" width="13.0" height="13.0"/><rect x="818.9" y="818.7" width="13.0" height="13.0"/><rect x="823.3" y="819.4" width="13.0" height="13.0"/><rect x="827.7" y="817.2" width="13.0" height="13.0"/><rect x="832.1" y="817.2" width="13.0" height="13.0"/><rect x="836.5" y="819.6" width="13.0" height="13.0"/><rect x="840.9" y="822.0" width="13.0" height="13.0"/><rect x="845.3" y="822.4" width="13.0" height="13.0"/><rect x="849.7" y="824.5" width="13.0" height="13.0"/><rect x="854.1" y="823.2" width="13.0" height="13.0"/><rect x="858.5" y="823.1" width="13.0" height="13.0"/><rect x="862.9" y="821.5" width="13.0" height="13.0"/><rect x="867.3" y="819.6" width="13.0" height="13.0"/><rect x="871.7" y="820.0" width="13.0" height="13.0"/><rect x="876.1" y="820.8" width="13.0" height="13.0"/><rect x="880.5" y="821.5" width="13.0" height="13.0"/><rect x="884.9" y="823.6" width="13.0" height="13.0"/><rect x="889.3" y="821.0" width="13.0" height="13.0"/><rect x="893.7" y="819.5" width="13.0" height="13.0"/><rect x="898.1" y="822.6" width="13.0" height="13.0"/><rect x="902.5" y="820.8" width="13.0" height="13.0"/><rect x="906.9" y="821.3" width="13.0" height="13.0"/><rect x="911.3" y="819.8" width="13.0" height="13.0"/><rect x="912.7" y="821.9" width="13.0" height="13.0"/></g>
<text x="55.60" y="936.50" font-size="37.30" letter-spacing="1.20" text-anchor="middle">100</text><text x="450.80" y="936.50" font-size="37.30" letter-spacing="1.20" text-anchor="middle">200</text><text x="847.50" y="936.50" font-size="37.30" letter-spacing="1.20" text-anchor="middle">300</text>
<text x="481.60" y="994.10" font-size="38.50" textLength="277.40" lengthAdjust="spacingAndGlyphs" text-anchor="middle" >Temperature (K)</text>
<text x="65.80" y="243.30" font-size="37.50" textLength="72.00" lengthAdjust="spacingAndGlyphs" >&#215;0.1</text>
<text x="765.50" y="240.90" font-size="37.50" textLength="122.70" lengthAdjust="spacingAndGlyphs" >Pt(111)</text>
<text x="833.00" y="618.00" font-size="37.50">Pt<tspan font-size="26.00" dy="10.60" dx="1.00">13</tspan></text><text x="833.00" y="707.60" font-size="37.50">Pt<tspan font-size="26.00" dy="10.60" dx="1.00">10</tspan></text><text x="833.00" y="798.40" font-size="37.50">Pt<tspan font-size="26.00" dy="10.60" dx="1.00">9</tspan></text>
<text x="0" y="0" transform="translate(32.80,707.00) rotate(-90)" font-size="37.40" >Ethane ion signal 30 <tspan font-style="italic">m/z</tspan> (a.u.)</text>
<!-- panel b -->
<text x="0" y="0" transform="translate(1.40,1086.00) scale(1.050,1)" font-size="53.00" font-weight="bold" >b</text>
<g stroke="#000" stroke-width="5.6" fill="none" stroke-linecap="butt">
<line x1="55.6" y1="1050.7" x2="55.6" y2="1920.3"/>
<line x1="55.6" y1="1050.6" x2="561" y2="1050.6"/>
<line x1="587" y1="1050.6" x2="923.4" y2="1050.6"/>
<line x1="923.4" y1="1050.6" x2="923.4" y2="1920.3"/>
<line x1="51.1" y1="1917.5" x2="560" y2="1917.5"/>
<line x1="590" y1="1917.5" x2="926" y2="1917.5"/>
<line x1="55.6" y1="1173.8" x2="90.7" y2="1173.8"/>
<line x1="55.6" y1="1419.3" x2="97.9" y2="1419.3"/>
<line x1="55.6" y1="1671.9" x2="90.7" y2="1671.9"/>
<line x1="83.1" y1="1877" x2="83.1" y2="1918"/><line x1="151.4" y1="1877" x2="151.4" y2="1918"/><line x1="212.6" y1="1877" x2="212.6" y2="1918"/><line x1="274.3" y1="1877" x2="274.3" y2="1918"/><line x1="342.6" y1="1877" x2="342.6" y2="1918"/><line x1="404.1" y1="1877" x2="404.1" y2="1918"/><line x1="465.5" y1="1877" x2="465.5" y2="1918"/><line x1="534.0" y1="1877" x2="534.0" y2="1918"/><line x1="622.7" y1="1877" x2="622.7" y2="1918"/><line x1="691.2" y1="1877" x2="691.2" y2="1918"/><line x1="758.9" y1="1877" x2="758.9" y2="1918"/><line x1="861.4" y1="1877" x2="861.4" y2="1918"/>

<line x1="556.4" y1="1903.8" x2="569.6" y2="1937.6"/>
<line x1="584.4" y1="1903.8" x2="597.1" y2="1937.6"/>
</g>
<polygon points="559.3,1047.6 565.2,1047.6 572.6,1065.5 567.2,1067.6" fill="#000"/>
<polygon points="586.9,1047.6 592.9,1047.6 600.2,1065.5 595.4,1067.6" fill="#000"/>
<g fill="none" stroke="#009840" stroke-width="13" stroke-dasharray="27.1 27.56" stroke-linecap="butt" stroke-linejoin="miter"><polyline points="84.8,1920.8 148.6,1920.8 212.5,1612.4 276.4,1487.4 340.1,1454.1 404.0,1202.5 467.4,1341.8 530.8,1357.7" stroke-dashoffset="-4.2"/><polyline points="624.8,1422.9 691.8,1427.0 758.7,1546.8 859.1,1688.2" stroke-dashoffset="-23.1"/></g><rect x="55" y="1911.5" width="4" height="12" fill="#009840"/>
<g stroke="#009840" stroke-width="6.3" stroke-linecap="butt"><line x1="209.3" y1="1572.7" x2="209.3" y2="1648.0"/><line x1="198.9" y1="1572.7" x2="226.2" y2="1572.7"/><line x1="198.9" y1="1648.0" x2="226.2" y2="1648.0"/><line x1="277.8" y1="1436.7" x2="277.8" y2="1538.7"/><line x1="267.1" y1="1436.7" x2="287.9" y2="1436.7"/><line x1="267.1" y1="1538.7" x2="287.9" y2="1538.7"/><line x1="339.2" y1="1395.8" x2="339.2" y2="1511.6"/><line x1="328.8" y1="1395.8" x2="349.4" y2="1395.8"/><line x1="328.8" y1="1511.6" x2="349.4" y2="1511.6"/><line x1="405.5" y1="1115.5" x2="405.5" y2="1285.9"/><line x1="390.3" y1="1115.5" x2="417.7" y2="1115.5"/><line x1="390.3" y1="1285.9" x2="417.7" y2="1285.9"/><line x1="467.6" y1="1272.4" x2="467.6" y2="1408.8"/><line x1="458.7" y1="1272.4" x2="479.3" y2="1272.4"/><line x1="458.7" y1="1408.8" x2="479.3" y2="1408.8"/><line x1="530.5" y1="1292.9" x2="530.5" y2="1422.5"/><line x1="520.4" y1="1292.9" x2="540.6" y2="1292.9"/><line x1="520.4" y1="1422.5" x2="540.6" y2="1422.5"/><line x1="626.0" y1="1361.6" x2="626.0" y2="1484.3"/><line x1="616.0" y1="1361.6" x2="636.0" y2="1361.6"/><line x1="616.0" y1="1484.3" x2="636.0" y2="1484.3"/><line x1="694.2" y1="1367.9" x2="694.2" y2="1484.3"/><line x1="684.2" y1="1367.9" x2="704.2" y2="1367.9"/><line x1="684.2" y1="1484.3" x2="704.2" y2="1484.3"/><line x1="759.2" y1="1504.3" x2="759.2" y2="1593.1"/><line x1="745.4" y1="1504.3" x2="773.0" y2="1504.3"/><line x1="745.4" y1="1593.1" x2="773.0" y2="1593.1"/><line x1="858.2" y1="1661.6" x2="858.2" y2="1716.2"/><line x1="847.9" y1="1661.6" x2="868.6" y2="1661.6"/><line x1="847.9" y1="1716.2" x2="868.6" y2="1716.2"/></g>
<g fill="#009840"><circle cx="84.8" cy="1920.8" r="15.3"/><circle cx="148.6" cy="1920.8" r="15.3"/><circle cx="212.5" cy="1612.4" r="15.3"/><circle cx="276.4" cy="1487.4" r="15.3"/><circle cx="340.1" cy="1454.1" r="15.3"/><circle cx="404.0" cy="1202.5" r="15.3"/><circle cx="467.4" cy="1341.8" r="15.3"/><circle cx="530.8" cy="1357.7" r="15.3"/><circle cx="624.8" cy="1422.9" r="15.3"/><circle cx="691.8" cy="1427.0" r="15.3"/><circle cx="758.7" cy="1546.8" r="15.3"/><circle cx="859.1" cy="1688.2" r="15.3"/></g>
<text x="83.1" y="1964.40" font-size="37.30" letter-spacing="1.00" text-anchor="middle">8</text><text x="151.4" y="1964.40" font-size="37.30" letter-spacing="1.00" text-anchor="middle">9</text><text x="212.6" y="1964.40" font-size="37.30" letter-spacing="1.00" text-anchor="middle">10</text><text x="274.3" y="1964.40" font-size="37.30" letter-spacing="1.00" text-anchor="middle">11</text><text x="342.6" y="1964.40" font-size="37.30" letter-spacing="1.00" text-anchor="middle">12</text><text x="404.1" y="1964.40" font-size="37.30" letter-spacing="1.00" text-anchor="middle">13</text><text x="465.5" y="1964.40" font-size="37.30" letter-spacing="1.00" text-anchor="middle">14</text><text x="534.0" y="1964.40" font-size="37.30" letter-spacing="1.00" text-anchor="middle">15</text><text x="622.7" y="1964.40" font-size="37.30" letter-spacing="1.00" text-anchor="middle">20</text><text x="691.2" y="1964.40" font-size="37.30" letter-spacing="1.00" text-anchor="middle">23</text><text x="758.9" y="1964.40" font-size="37.30" letter-spacing="1.00" text-anchor="middle">40</text><text x="861.50" y="1964.40" font-size="37.50" textLength="123.00" lengthAdjust="spacingAndGlyphs" text-anchor="middle" >Pt(111)</text>
<text x="489.00" y="2019.90" font-size="37.90" textLength="478.80" lengthAdjust="spacingAndGlyphs" text-anchor="middle" >Number of atoms per cluster</text>
<text x="0" y="0" transform="translate(34.40,1766.50) rotate(-90)" font-size="37.70" >Integrated ethane ion signal (a.u.)</text>
</svg>
</body></html>
